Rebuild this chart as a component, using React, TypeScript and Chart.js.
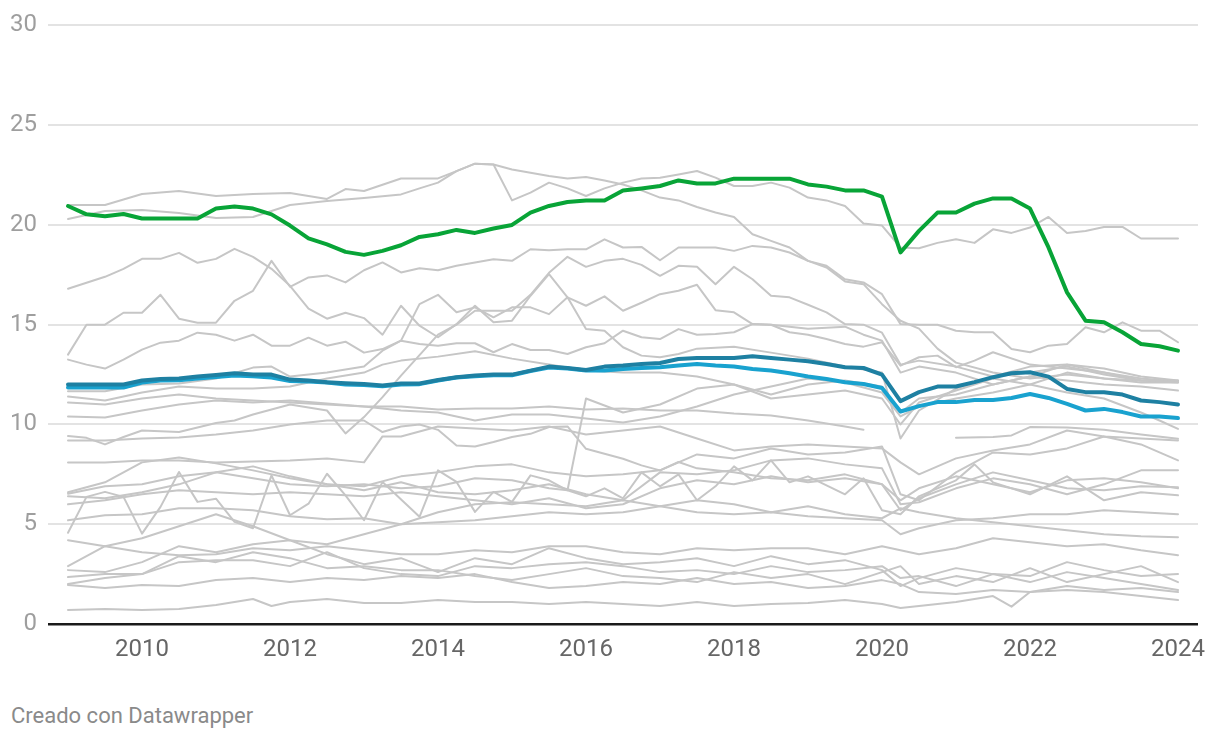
import React, { useEffect, useRef } from "react";
import { Chart, registerables } from "chart.js";

Chart.register(...registerables);

// ---- categories (quarters, as decimal years) ----
const QUARTERS = [
  2009, 2009.25, 2009.5, 2009.75, 2010, 2010.25, 2010.5, 2010.75, 2011, 2011.25, 2011.5, 2011.75,
  2012, 2012.25, 2012.5, 2012.75, 2013, 2013.25, 2013.5, 2013.75, 2014, 2014.25, 2014.5, 2014.75,
  2015, 2015.25, 2015.5, 2015.75, 2016, 2016.25, 2016.5, 2016.75, 2017, 2017.25, 2017.5, 2017.75,
  2018, 2018.25, 2018.5, 2018.75, 2019, 2019.25, 2019.5, 2019.75, 2020, 2020.25, 2020.5, 2020.75,
  2021, 2021.25, 2021.5, 2021.75, 2022, 2022.25, 2022.5, 2022.75, 2023, 2023.25, 2023.5, 2023.75, 2024,
];

const X_TICKS = [2010, 2012, 2014, 2016, 2018, 2020, 2022, 2024];
const Y_TICKS = [0, 5, 10, 15, 20, 25, 30];

// ---- highlighted series (quarterly) ----
const GREEN = [
  20.95, 20.53, 20.43, 20.55, 20.32, 20.32, 20.32, 20.32, 20.82, 20.92,
  20.82, 20.53, 19.97, 19.33, 19.03, 18.65, 18.5, 18.7, 18.98, 19.4,
  19.53, 19.75, 19.6, 19.82, 20.0, 20.62, 20.95, 21.15, 21.23, 21.23,
  21.73, 21.83, 21.95, 22.23, 22.08, 22.08, 22.32, 22.32, 22.32, 22.32,
  22.03, 21.92, 21.73, 21.73, 21.42, 18.62, 19.7, 20.62, 20.62, 21.07,
  21.33, 21.33, 20.82, 18.87, 16.62, 15.2, 15.12, 14.62, 14.03, 13.92,
  13.7,
];
const DARK_BLUE = [
  12.0, 12.0, 12.0, 12.0, 12.2, 12.28, 12.3, 12.4, 12.48, 12.57,
  12.5, 12.5, 12.25, 12.2, 12.12, 12.07, 12.03, 11.95, 12.05, 12.05,
  12.23, 12.37, 12.45, 12.5, 12.5, 12.7, 12.9, 12.83, 12.73, 12.9,
  12.95, 13.03, 13.08, 13.28, 13.33, 13.33, 13.33, 13.42, 13.33, 13.25,
  13.17, 13.03, 12.87, 12.83, 12.5, 11.17, 11.62, 11.9, 11.9, 12.12,
  12.37, 12.57, 12.62, 12.4, 11.78, 11.62, 11.62, 11.5, 11.2, 11.12,
  11.0,
];
const LIGHT_BLUE = [
  11.85, 11.85, 11.85, 11.85, 12.1, 12.2, 12.22, 12.3, 12.38, 12.45,
  12.42, 12.35, 12.18, 12.15, 12.1, 12.0, 11.98, 11.92, 12.0, 12.02,
  12.2, 12.35, 12.42, 12.47, 12.47, 12.68, 12.85, 12.8, 12.7, 12.7,
  12.78, 12.83, 12.87, 12.95, 13.03, 12.95, 12.9, 12.78, 12.7, 12.57,
  12.4, 12.28, 12.12, 12.03, 11.83, 10.65, 10.92, 11.12, 11.12, 11.23,
  11.23, 11.33, 11.53, 11.33, 11.03, 10.7, 10.78, 10.62, 10.4, 10.4,
  10.32,
];

// ---- grey background series: [year, value] ----
const GRAY_01 = [[2009,21.0],[2009.5,21.0],[2010,21.55],[2010.5,21.7],[2011,21.45],[2011.5,21.55],[2012,21.6],[2012.5,21.3],[2012.75,21.8],[2013,21.7],[2013.5,22.33],[2014,22.33],[2014.25,22.7],[2014.5,23.07],[2014.75,23.03],[2015,21.23],[2015.25,21.62],[2015.5,22.12],[2015.75,21.83],[2016,21.45],[2016.25,21.83],[2016.5,22.12],[2016.75,22.33],[2017,22.37],[2017.25,22.53],[2017.5,22.7],[2017.75,22.37],[2018,21.95],[2018.25,21.95],[2018.5,22.12],[2018.75,21.87],[2019,21.37],[2019.25,21.23],[2019.5,20.95],[2019.75,20.07],[2020,19.97],[2020.25,18.87],[2020.5,18.83],[2020.75,19.1],[2021,19.28],[2021.25,19.1],[2021.5,19.78],[2021.75,19.6],[2022,19.87],[2022.25,20.4],[2022.5,19.6],[2022.75,19.7],[2023,19.9],[2023.25,19.9],[2023.5,19.32],[2023.75,19.32],[2024,19.32]];
const GRAY_02 = [[2009,20.3],[2009.5,20.7],[2010,20.75],[2010.5,20.6],[2011,20.35],[2011.5,20.4],[2012,21.0],[2012.5,21.2],[2013,21.35],[2013.5,21.53],[2013.75,21.83],[2014,22.12],[2014.25,22.7],[2014.5,23.07],[2014.75,23.03],[2015,22.78],[2015.25,22.62],[2015.5,22.45],[2015.75,22.33],[2016,22.4],[2016.25,22.23],[2016.5,22.03],[2016.75,21.73],[2017,21.37],[2017.25,21.23],[2017.5,20.9],[2017.75,20.62],[2018,20.4],[2018.25,19.53],[2018.5,19.2],[2018.75,18.87],[2019,18.2],[2019.25,17.87],[2019.5,17.17],[2019.75,17.03],[2020,16.03],[2020.25,15.2],[2020.5,14.8],[2020.75,13.8],[2021,13.1],[2021.5,12.6],[2022,12.3],[2022.5,12.5],[2023,12.3],[2023.5,12.1],[2024,12.1]];
const GRAY_03 = [[2009,13.5],[2009.25,15.0],[2009.5,15.0],[2009.75,15.6],[2010,15.6],[2010.25,16.5],[2010.5,15.3],[2010.75,15.1],[2011,15.1],[2011.25,16.2],[2011.5,16.7],[2011.75,18.2],[2012,16.9],[2012.25,17.37],[2012.5,17.47],[2012.75,17.12],[2013,17.73],[2013.25,18.12],[2013.5,17.62],[2013.75,17.83],[2014,17.73],[2014.25,17.95],[2014.5,18.12],[2014.75,18.28],[2015,18.2],[2015.25,18.78],[2015.5,18.73],[2015.75,18.78],[2016,18.78],[2016.25,19.28],[2016.5,18.87],[2016.75,18.9],[2017,18.23],[2017.25,18.87],[2017.5,18.87],[2017.75,18.87],[2018,18.7],[2018.25,18.95],[2018.5,18.87],[2018.75,18.62],[2019,18.2],[2019.25,17.95],[2019.5,17.28],[2019.75,17.12],[2020,16.53],[2020.25,15.03],[2020.5,15.0],[2020.75,15.0],[2021,14.7],[2021.25,14.62],[2021.5,14.62],[2021.75,13.78],[2022,13.62],[2022.25,13.95],[2022.5,14.03],[2022.75,14.87],[2023,14.62],[2023.25,15.12],[2023.5,14.7],[2023.75,14.7],[2024,14.12]];
const GRAY_04 = [[2009,16.8],[2009.5,17.4],[2009.75,17.8],[2010,18.3],[2010.25,18.3],[2010.5,18.6],[2010.75,18.1],[2011,18.3],[2011.25,18.8],[2011.5,18.4],[2011.75,17.8],[2012,16.95],[2012.25,15.8],[2012.5,15.3],[2012.75,15.6],[2013,15.33],[2013.25,14.5],[2013.5,15.95],[2013.75,14.95],[2014,14.37],[2014.25,15.03],[2014.5,15.95],[2014.75,15.12],[2015,15.2],[2015.25,16.45],[2015.5,17.53],[2015.75,16.37],[2016,15.95],[2016.25,16.42],[2016.5,15.7],[2016.75,16.1],[2017,16.53],[2017.25,16.7],[2017.5,17.0],[2017.75,15.73],[2018,15.62],[2018.25,15.03],[2018.5,15.0],[2019,14.8],[2019.5,14.9],[2019.75,14.5],[2020,14.2],[2020.25,12.6],[2020.5,12.9],[2021,12.6],[2021.5,12.0],[2022,12.4],[2022.5,13.0],[2023,12.8],[2023.5,12.4],[2024,12.2]];
const GRAY_05 = [[2009,9.42],[2009.25,9.33],[2009.5,9.0],[2009.75,9.37],[2010,9.7],[2010.5,9.62],[2011,10.07],[2011.25,10.2],[2011.5,10.5],[2012,11.0],[2012.5,10.7],[2012.75,9.55],[2013,10.37],[2013.25,11.37],[2013.5,12.45],[2014,14.5],[2014.25,15.0],[2014.5,15.7],[2015,15.7],[2015.25,16.5],[2015.5,17.6],[2015.75,18.4],[2016,17.9],[2016.25,18.2],[2016.5,18.3],[2016.75,18.0],[2017,17.45],[2017.25,17.95],[2017.5,17.9],[2017.75,17.03],[2018,17.9],[2018.25,17.28],[2018.5,16.45],[2018.75,16.37],[2019,16.0],[2019.25,15.62],[2019.5,15.03],[2019.75,15.0],[2020,14.6],[2020.25,13.0],[2020.5,13.2],[2021,12.9],[2021.5,12.4],[2022,12.6],[2022.5,12.9],[2023,12.5],[2023.5,12.2],[2024,12.15]];
const GRAY_06 = [[2009,13.25],[2009.25,13.0],[2009.5,12.8],[2009.75,13.25],[2010,13.75],[2010.25,14.1],[2010.5,14.2],[2010.75,14.6],[2011,14.5],[2011.25,14.2],[2011.5,14.5],[2011.75,13.95],[2012,13.95],[2012.25,14.35],[2012.5,13.95],[2012.75,14.15],[2013,13.6],[2013.25,13.78],[2013.5,14.2],[2013.75,14.03],[2014,13.95],[2014.25,14.07],[2014.5,14.07],[2014.75,13.62],[2015,14.03],[2015.25,13.73],[2015.5,13.73],[2015.75,13.53],[2016,13.87],[2016.25,14.07],[2016.5,14.7],[2016.75,14.37],[2017,14.28],[2017.25,14.78],[2017.5,14.5],[2017.75,14.53],[2018,14.62],[2018.25,15.03],[2018.5,15.0],[2018.75,14.62],[2019,14.5],[2019.25,14.28],[2019.5,14.03],[2019.75,13.9],[2020,14.12],[2020.25,12.95],[2020.5,13.37],[2020.75,13.45],[2021,12.87],[2021.25,13.2],[2021.5,13.62],[2022,13.0],[2022.5,12.8],[2023,12.6],[2023.5,12.3],[2024,12.15]];
const GRAY_07 = [[2009,11.67],[2009.5,11.67],[2010,12.0],[2010.5,12.05],[2011,12.3],[2011.5,12.85],[2011.75,12.9],[2012,12.4],[2012.5,12.6],[2013,12.9],[2013.25,13.7],[2013.5,14.2],[2013.75,16.03],[2014,16.5],[2014.25,15.62],[2014.5,15.87],[2014.75,15.37],[2015,15.87],[2015.25,15.87],[2015.5,15.53],[2015.75,16.37],[2016,14.78],[2016.25,14.7],[2016.5,13.87],[2016.75,13.45],[2017,13.37],[2017.25,13.53],[2017.5,13.8],[2018,13.9],[2018.5,13.6],[2019,13.3],[2019.5,12.9],[2020,12.6],[2020.25,9.3],[2020.5,10.7],[2021,11.8],[2021.5,12.4],[2022,12.9],[2022.5,13.0],[2023,12.6],[2023.5,12.2],[2024,12.1]];
const GRAY_08 = [[2009,11.4],[2009.5,11.2],[2010,11.6],[2010.5,11.9],[2011,11.8],[2011.5,11.8],[2012,11.9],[2012.5,12.3],[2013,12.6],[2013.25,13.0],[2013.5,13.2],[2014,13.4],[2014.5,13.67],[2015,13.3],[2015.5,13.0],[2016,12.7],[2016.5,12.6],[2017,12.6],[2017.5,12.4],[2018,12.0],[2018.5,11.5],[2019,12.0],[2019.5,12.2],[2020,11.9],[2020.25,10.6],[2020.5,11.3],[2021,11.5],[2021.5,12.0],[2022,12.4],[2022.5,12.2],[2023,12.0],[2023.5,11.9],[2024,11.7]];
const GRAY_09 = [[2009,11.1],[2009.5,11.0],[2010,11.3],[2010.5,11.5],[2011,11.3],[2011.5,11.2],[2012,11.1],[2012.5,11.0],[2013,10.9],[2013.5,10.9],[2014,10.75],[2014.5,10.8],[2015,10.8],[2015.5,10.9],[2016,10.75],[2016.5,10.8],[2017,10.7],[2017.5,10.7],[2018,10.55],[2018.5,10.45],[2019,10.2],[2019.5,9.9],[2019.75,9.73]];
const GRAY_10 = [[2009,10.4],[2009.5,10.35],[2010,10.7],[2010.5,11.0],[2011,11.2],[2011.5,11.1],[2012,11.2],[2012.5,11.05],[2013,10.9],[2013.5,10.7],[2014,10.6],[2014.5,10.2],[2015,10.5],[2015.5,10.5],[2016,10.3],[2016.5,10.1],[2017,10.4],[2017.5,10.9],[2018,11.5],[2018.5,11.9],[2019,12.3],[2019.5,12.1],[2020,11.6],[2020.25,10.4],[2020.5,10.9],[2021,11.3],[2021.5,11.6],[2022,12.0],[2022.5,12.6],[2023,12.3],[2023.5,12.2],[2024,12.2]];
const GRAY_11 = [[2009,6.53],[2009.5,6.9],[2010,7.0],[2010.5,7.4],[2011,7.6],[2011.5,7.3],[2012,7.0],[2012.5,6.9],[2013,7.0],[2013.5,6.8],[2014,6.9],[2014.5,7.3],[2015,7.2],[2015.5,6.8],[2015.75,6.7],[2016,11.3],[2016.5,10.6],[2017,11.0],[2017.5,11.8],[2018,12.0],[2018.5,11.3],[2019,11.5],[2019.5,11.7],[2020,11.3],[2020.25,10.0],[2020.5,11.1],[2021,11.7],[2021.5,12.3],[2022,12.0],[2022.5,11.6],[2023,11.3],[2023.5,10.6],[2023.75,10.2],[2024,9.78]];
const GRAY_12 = [[2009,9.2],[2009.5,9.2],[2010,9.3],[2010.5,9.35],[2011,9.5],[2011.5,9.7],[2012,10.0],[2012.5,10.2],[2013,10.2],[2013.25,9.62],[2013.5,9.9],[2013.75,10.0],[2014,9.73],[2014.25,8.95],[2014.5,8.9],[2014.75,9.12],[2015,9.37],[2015.25,9.53],[2015.5,9.87],[2015.75,9.9],[2016,8.78],[2016.25,8.53],[2016.5,8.28],[2016.75,7.95],[2017,7.7],[2017.25,8.12],[2017.5,7.8],[2018,7.6],[2018.5,7.3],[2019,7.2],[2019.5,7.5],[2020,7.0],[2020.25,5.7],[2020.5,6.3],[2021,7.0],[2021.5,7.6],[2022,7.2],[2022.5,6.8],[2023,6.7],[2023.5,6.9],[2024,6.85]];
const GRAY_13 = [[2009,8.1],[2009.5,8.1],[2010,8.2],[2010.5,8.2],[2011,8.1],[2011.5,8.15],[2012,8.2],[2012.5,8.3],[2013,8.1],[2013.25,9.4],[2013.5,9.4],[2014,9.9],[2014.5,9.8],[2015,9.7],[2015.5,9.9],[2016,9.5],[2016.5,9.7],[2017,9.9],[2017.5,9.3],[2018,8.7],[2018.5,8.9],[2019,9.0],[2019.5,8.9],[2020,8.8],[2020.25,8.1],[2020.5,7.5],[2021,8.3],[2021.5,8.7],[2022,9.0],[2022.5,9.7],[2023,9.4],[2023.5,9.3],[2024,9.2]];
const GRAY_14 = [[2009,6.6],[2009.5,7.1],[2010,8.1],[2010.5,8.35],[2011,8.05],[2011.5,7.7],[2012,7.3],[2012.5,7.0],[2013,6.9],[2013.5,7.4],[2014,7.6],[2014.5,7.9],[2015,8.0],[2015.5,7.6],[2016,7.4],[2016.5,7.5],[2017,7.7],[2017.5,8.5],[2018,8.3],[2018.5,8.8],[2019,8.5],[2019.5,8.6],[2020,8.9],[2020.25,6.5],[2020.5,6.2],[2021,7.6],[2021.5,8.6],[2022,8.5],[2022.5,8.8],[2023,9.4],[2023.5,9.0],[2024,8.2]];
const GRAY_15 = [[2009,6.4],[2009.5,6.3],[2010,6.6],[2010.5,7.0],[2011,7.6],[2011.5,7.9],[2012,7.4],[2012.5,7.0],[2013,6.7],[2013.5,7.1],[2014,6.6],[2014.5,6.5],[2015,6.7],[2015.5,7.0],[2016,6.5],[2016.5,6.2],[2017,7.6],[2017.5,7.5],[2018,7.7],[2018.5,8.2],[2019,8.3],[2019.5,8.0],[2020,7.8],[2020.25,6.0],[2020.5,6.1],[2021,6.8],[2021.5,7.3],[2022,7.0],[2022.5,6.5],[2023,7.0],[2023.5,7.7],[2024,7.7]];
const GRAY_16 = [[2009,6.0],[2009.5,6.2],[2010,6.5],[2010.5,6.7],[2011,6.6],[2011.5,6.5],[2012,6.6],[2012.5,6.5],[2013,6.4],[2013.5,6.6],[2014,6.4],[2014.5,6.2],[2015,6.0],[2015.5,6.3],[2016,5.8],[2016.5,6.0],[2017,6.8],[2017.5,7.2],[2018,7.0],[2018.5,7.4],[2019,7.1],[2019.5,7.3],[2020,7.0],[2020.25,6.2],[2020.5,6.8],[2021,7.4],[2021.5,7.0],[2022,6.6],[2022.5,7.2],[2023,7.3],[2023.5,7.1],[2024,6.8]];
const GRAY_17 = [[2009,5.2],[2009.5,5.45],[2010,5.5],[2010.5,5.8],[2011,5.8],[2011.5,5.7],[2012,5.4],[2012.5,5.25],[2013,5.3],[2013.5,5.0],[2014,5.1],[2014.5,5.2],[2015,5.4],[2015.5,5.6],[2016,5.5],[2016.5,5.6],[2017,5.9],[2017.5,6.2],[2018,6.0],[2018.5,5.6],[2019,5.9],[2019.5,5.5],[2020,5.3],[2020.25,5.8],[2020.5,5.6],[2021,5.3],[2021.5,5.1],[2022,4.9],[2022.5,4.7],[2023,4.5],[2023.5,4.4],[2024,4.35]];
const GRAY_18 = [[2009,4.57],[2009.25,6.37],[2009.5,6.62],[2009.75,6.37],[2010,4.53],[2010.25,5.87],[2010.5,7.62],[2010.75,6.12],[2011,6.28],[2011.25,5.12],[2011.5,4.8],[2011.75,7.45],[2012,5.45],[2012.25,6.03],[2012.5,7.53],[2012.75,6.45],[2013,5.2],[2013.25,7.12],[2013.75,5.37],[2014,7.7],[2014.25,7.12],[2014.5,5.62],[2014.75,6.62],[2015,6.12],[2015.25,7.45],[2015.5,7.2],[2015.75,6.7],[2016,6.4],[2016.25,6.8],[2016.5,6.3],[2016.75,7.6],[2017,6.9],[2017.25,7.5],[2017.5,6.2],[2017.75,6.9],[2018,7.9],[2018.25,7.2],[2018.5,8.2],[2018.75,7.1],[2019,7.4],[2019.5,6.5],[2019.75,7.3],[2020,5.7],[2020.25,5.5],[2020.5,6.4],[2021,7.2],[2021.25,8.0],[2021.5,7.1],[2022,6.5],[2022.5,7.4],[2023,6.2],[2023.5,6.6],[2024,6.45]];
const GRAY_19 = [[2009,4.2],[2009.5,3.9],[2010,3.6],[2010.5,3.45],[2011,3.5],[2011.5,3.8],[2012,3.7],[2012.5,3.9],[2013,3.7],[2013.5,3.5],[2014,3.5],[2014.5,3.7],[2015,3.6],[2015.5,3.9],[2016,3.9],[2016.5,3.6],[2017,3.5],[2017.5,3.8],[2018,3.7],[2018.5,3.8],[2019,3.8],[2019.5,3.5],[2020,3.9],[2020.25,3.7],[2020.5,3.5],[2021,3.8],[2021.5,4.3],[2022,4.1],[2022.5,3.9],[2023,4.0],[2023.5,3.7],[2024,3.45]];
const GRAY_20 = [[2009,2.9],[2009.5,3.9],[2010,4.3],[2010.5,4.9],[2011,5.5],[2011.5,4.9],[2012,4.2],[2012.5,4.0],[2013,4.5],[2013.5,5.0],[2014,5.6],[2014.5,6.0],[2015,6.1],[2015.5,6.0],[2016,5.9],[2016.5,6.2],[2017,5.9],[2017.5,5.6],[2018,5.5],[2018.5,5.6],[2019,5.4],[2019.5,5.3],[2020,5.2],[2020.25,4.5],[2020.5,4.8],[2021,5.2],[2021.5,5.3],[2022,5.5],[2022.5,5.5],[2023,5.7],[2023.5,5.6],[2024,5.5]];
const GRAY_21 = [[2009,2.7],[2009.5,2.6],[2010,3.1],[2010.5,3.9],[2011,3.6],[2011.5,4.0],[2012,4.2],[2012.5,3.5],[2013,3.0],[2013.5,3.3],[2014,2.6],[2014.5,3.3],[2015,3.0],[2015.5,3.8],[2016,3.3],[2016.5,3.0],[2017,3.1],[2017.5,3.3],[2018,2.9],[2018.5,3.4],[2019,3.0],[2019.5,3.2],[2020,2.7],[2020.25,1.9],[2020.5,2.3],[2021,2.8],[2021.5,2.5],[2022,2.4],[2022.5,3.1],[2023,2.7],[2023.5,2.4],[2024,2.5]];
const GRAY_22 = [[2009,2.35],[2009.5,2.5],[2010,2.5],[2010.5,3.4],[2011,3.1],[2011.5,3.6],[2012,3.3],[2012.5,2.8],[2013,2.9],[2013.5,2.7],[2014,2.7],[2014.5,2.4],[2015,2.2],[2015.5,2.5],[2016,2.8],[2016.5,2.4],[2017,2.3],[2017.5,2.1],[2018,2.6],[2018.5,2.3],[2019,2.5],[2019.5,2.0],[2020,2.6],[2020.25,2.9],[2020.5,2.0],[2021,2.4],[2021.5,2.1],[2022,2.8],[2022.5,2.1],[2023,2.5],[2023.5,2.9],[2024,2.1]];
const GRAY_23 = [[2009,2.0],[2009.5,2.3],[2010,2.5],[2010.5,3.1],[2011,3.2],[2011.5,3.2],[2012,2.9],[2012.5,3.6],[2013,2.8],[2013.5,2.5],[2014,2.4],[2014.5,2.9],[2015,2.8],[2015.5,3.0],[2016,3.1],[2016.5,2.9],[2017,2.6],[2017.5,2.7],[2018,2.5],[2018.5,2.9],[2019,2.6],[2019.5,2.7],[2020,2.9],[2020.25,2.3],[2020.5,2.4],[2021,1.9],[2021.5,2.5],[2022,2.1],[2022.5,2.6],[2023,2.3],[2023.5,2.0],[2024,1.7]];
const GRAY_24 = [[2009,1.95],[2009.5,1.8],[2010,1.95],[2010.5,1.9],[2011,2.2],[2011.5,2.3],[2012,2.1],[2012.5,2.3],[2013,2.2],[2013.5,2.4],[2014,2.3],[2014.5,2.5],[2015,2.1],[2015.5,1.8],[2016,1.9],[2016.5,2.1],[2017,2.0],[2017.5,2.3],[2018,2.0],[2018.5,2.1],[2019,1.8],[2019.5,1.9],[2020,2.2],[2020.25,2.0],[2020.5,1.6],[2021,1.5],[2021.5,1.7],[2022,1.6],[2022.5,1.9],[2023,1.7],[2023.5,1.8],[2024,1.6]];
const GRAY_25 = [[2009,0.7],[2009.5,0.75],[2010,0.7],[2010.5,0.75],[2011,0.95],[2011.5,1.25],[2011.75,0.9],[2012,1.1],[2012.5,1.25],[2013,1.05],[2013.5,1.05],[2014,1.2],[2014.5,1.1],[2015,1.1],[2015.5,1.0],[2016,1.1],[2016.5,1.0],[2017,0.9],[2017.5,1.1],[2018,0.9],[2018.5,1.0],[2019,1.05],[2019.5,1.2],[2020,1.0],[2020.25,0.8],[2020.5,0.9],[2021,1.1],[2021.5,1.4],[2021.75,0.87],[2022,1.6],[2022.5,1.7],[2023,1.6],[2023.5,1.4],[2024,1.2]];
const GRAY_26 = [[2021,9.33],[2021.5,9.37],[2021.75,9.45],[2022,9.87],[2022.5,9.85],[2023,9.73],[2023.5,9.5],[2024,9.28]];

const GRAY_SERIES = [
  GRAY_01, GRAY_02, GRAY_03, GRAY_04, GRAY_05, GRAY_06, GRAY_07, GRAY_08, GRAY_09, GRAY_10,
  GRAY_11, GRAY_12, GRAY_13, GRAY_14, GRAY_15, GRAY_16, GRAY_17, GRAY_18, GRAY_19, GRAY_20,
  GRAY_21, GRAY_22, GRAY_23, GRAY_24, GRAY_25, GRAY_26,
];

const FOOTER = "Creado con Datawrapper";

const COLOR_GREEN = "#08a437";
const COLOR_DARK = "#1e80a2";
const COLOR_LIGHT = "#19a2cf";
const COLOR_GRAY = "#c6c6c6";

export default function App() {
  const ref = useRef<HTMLCanvasElement>(null);

  useEffect(() => {
    const canvas = ref.current;
    if (!canvas) return;

    const quarterly = (vals: number[]) => QUARTERS.map((x, i) => ({ x, y: vals[i] }));

    const datasets: any[] = [
      { data: quarterly(GREEN), borderColor: COLOR_GREEN, borderWidth: 4, order: 0 },
      { data: quarterly(DARK_BLUE), borderColor: COLOR_DARK, borderWidth: 4, order: 1 },
      { data: quarterly(LIGHT_BLUE), borderColor: COLOR_LIGHT, borderWidth: 4, order: 2 },
      ...GRAY_SERIES.map((s) => ({
        data: s.map(([x, y]) => ({ x, y })),
        borderColor: COLOR_GRAY,
        borderWidth: 2,
        order: 10,
      })),
    ];

    const chart = new Chart(canvas, {
      type: "line",
      data: { datasets },
      options: {
        animation: false,
        responsive: false,
        devicePixelRatio: 1,
        layout: { padding: { left: 0, right: 22, top: 24, bottom: 0 } },
        plugins: { legend: { display: false }, tooltip: { enabled: false } },
        elements: {
          point: { radius: 0, hoverRadius: 0 },
          line: { tension: 0, borderJoinStyle: "round", borderCapStyle: "round", fill: false },
        },
        scales: {
          x: {
            type: "linear",
            min: 2009 - 20 / 74,
            max: 2024 + 20 / 74,
            afterBuildTicks: (scale: any) => {
              scale.ticks = X_TICKS.map((v) => ({ value: v }));
            },
            afterFit: (scale: any) => {
              scale.height = 56;
            },
            grid: { display: false, drawTicks: false },
            border: { display: false },
            ticks: {
              padding: 12,
              color: "#666666",
              font: { family: "Roboto", size: 24 },
              maxRotation: 0,
              autoSkip: false,
              callback: (v: any) => String(v),
            },
          },
          y: {
            min: 0,
            max: 30,
            afterBuildTicks: (scale: any) => {
              scale.ticks = Y_TICKS.map((v) => ({ value: v }));
            },
            afterFit: (scale: any) => {
              scale.width = 48;
            },
            grid: {
              drawTicks: false,
              color: (ctx: any) => (ctx.tick && ctx.tick.value === 0 ? "#1a1a1a" : "#e3e3e3"),
              lineWidth: (ctx: any) => (ctx.tick && ctx.tick.value === 0 ? 2.5 : 2),
            },
            border: { display: false },
            ticks: {
              padding: 11,
              color: "#9e9e9e",
              font: { family: "Roboto", size: 24 },
              callback: (v: any) => String(v),
            },
          },
        },
      } as any,
    });

    return () => chart.destroy();
  }, []);

  return (
    <div
      style={{
        position: "fixed",
        left: 0,
        top: 0,
        width: 1220,
        height: 740,
        background: "#ffffff",
        overflow: "hidden",
      }}
    >
      <canvas ref={ref} width={1220} height={680} style={{ display: "block", width: 1220, height: 680 }} />
      <div
        style={{
          position: "absolute",
          left: 11,
          top: 705,
          fontFamily: "Roboto",
          fontSize: 22,
          lineHeight: "22px",
          color: "#8a8a8a",
          whiteSpace: "nowrap",
        }}
      >
        {FOOTER}
      </div>
    </div>
  );
}
